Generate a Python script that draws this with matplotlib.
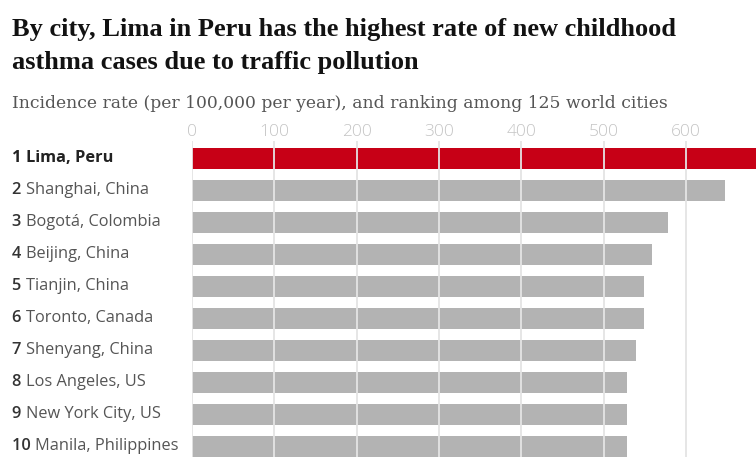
import matplotlib
matplotlib.use("Agg")
import matplotlib.pyplot as plt

# incidence rate per 100,000 children per year, top 10 of 125 cities
ranks = [1, 2, 3, 4, 5, 6, 7, 8, 9, 10]
cities = ["Lima, Peru", "Shanghai, China", "Bogotá, Colombia", "Beijing, China",
          "Tianjin, China", "Toronto, Canada", "Shenyang, China", "Los Angeles, US",
          "New York City, US", "Manila, Philippines"]
rates = [690, 648, 578, 559, 549, 549, 540, 529, 529, 529]
xticks = [0, 100, 200, 300, 400, 500, 600]

W, H = 756, 457
RED, GREY = "#c70016", "#b3b3b3"
SANS = ["Open Sans", "DejaVu Sans"]
SERIF = ["Liberation Serif", "DejaVu Serif"]

fig = plt.figure(figsize=(W / 100, H / 100), dpi=100)
fig.patch.set_facecolor("white")

# axes placed in pixel terms: left edge at x=192, runs off the right side
ax_top, ax_bot, ax_left = 141, 457, 192
ax = fig.add_axes([ax_left / W, 1 - ax_bot / H, 1 - ax_left / W, (ax_bot - ax_top) / H])
row = 32.0
ax.set_ylim((ax_bot - 158.5) / row, (ax_top - 158.5) / row)
ax.set_xlim(0, (W - ax_left) / 0.823)

colors = [RED] + [GREY] * (len(rates) - 1)
ax.barh(range(len(rates)), rates, height=21 / row, color=colors, zorder=2)
for x in xticks:
    ax.axvline(x, color="#e4e4e4", lw=1.3, zorder=3)

for s in ax.spines.values():
    s.set_visible(False)
ax.xaxis.tick_top()
ax.set_xticks(xticks)
ax.set_xticklabels([str(t) for t in xticks], family=SANS, fontsize=12.5,
                   weight="light", color="#c4c4c4")
ax.tick_params(axis="x", length=0, pad=0.5)
ax.set_yticks([])

# row labels: bold rank followed by the city name
lx = (12 - ax_left) / (W - ax_left)
tr = ax.get_yaxis_transform()
for i, (r, c) in enumerate(zip(ranks, cities)):
    top = i == 0
    num = ax.text(lx, i, f"{r} ", transform=tr, va="center", ha="left",
                  family=SANS, fontsize=11.8, weight="bold" if top else "semibold",
                  color="#222222" if top else "#333333")
    ax.annotate(c, xy=(1, 0.5), xycoords=num, va="center", ha="left",
                family=SANS, fontsize=11.8, weight="bold" if top else "normal",
                color="#222222" if top else "#555555")

fig.text(12 / W, 1 - 36 / H, "By city, Lima in Peru has the highest rate of new childhood",
         family=SERIF, weight="bold", fontsize=19.0, color="#121212", va="baseline")
fig.text(12 / W, 1 - 69 / H, "asthma cases due to traffic pollution",
         family=SERIF, weight="bold", fontsize=19.0, color="#121212", va="baseline")
fig.text(12 / W, 1 - 108 / H,
         "Incidence rate (per 100,000 per year), and ranking among 125 world cities",
         family=["DejaVu Serif"], fontsize=12.3, color="#555555", va="baseline")

fig.savefig("out.png", dpi=100)
